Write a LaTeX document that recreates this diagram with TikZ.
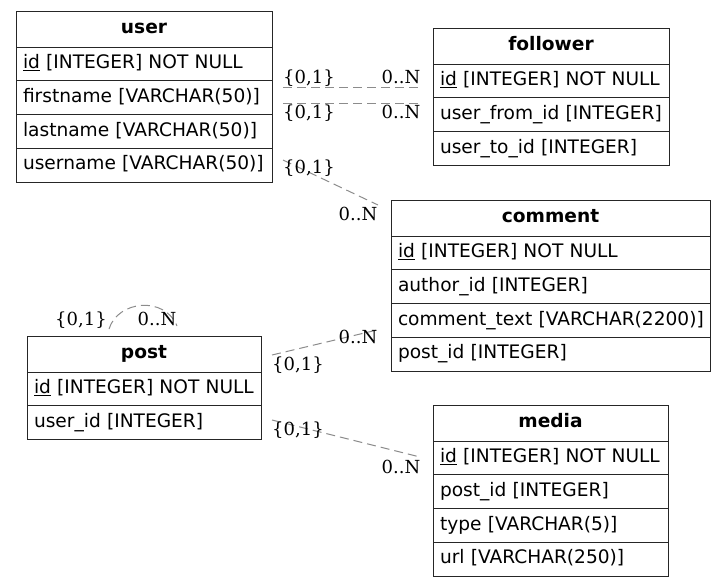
\documentclass[tikz,border=0pt]{standalone}
\usepackage{fontspec}
\setmainfont{DejaVu Sans}
\newfontfamily\lblfamily{DejaVu Serif}
\usetikzlibrary{calc}
\newcommand{\rowfnt}{\fontsize{18.6}{22}\selectfont}
\newcommand{\hdrfnt}{\fontsize{18.6}{22}\selectfont\bfseries}
\newcommand{\lblfnt}{\lblfamily\fontsize{18}{21}\selectfont}
\newcommand{\pk}[1]{\underline{#1}}
\begin{document}
\begin{tikzpicture}[x=1pt,y=-1pt,
  tbl/.style={draw=black!85, line width=1pt, outer sep=0pt, anchor=north west, inner xsep=7pt, inner ysep=0pt,
    minimum height=33.75pt, text width=#1, align=left, font=\rowfnt, text height=13.5pt, text depth=4pt},
  hdr/.style={tbl=#1, align=center, minimum height=36pt, font=\hdrfnt},
  rel/.style={draw=black!45, line width=1pt, dash pattern=on 9pt off 5pt},
  card/.style={font=\lblfnt, anchor=base, inner sep=0pt}]
\useasboundingbox (0,0) rectangle (727,587);
% user
\node[hdr=242pt] (user) at (16,11) {user};
\node[tbl=242pt] (user1) at (user.south west) {\pk{id} [INTEGER] NOT NULL};
\node[tbl=242pt] (user2) at (user1.south west) {firstname [VARCHAR(50)]};
\node[tbl=242pt] (user3) at (user2.south west) {lastname [VARCHAR(50)]};
\node[tbl=242pt] (user4) at (user3.south west) {username [VARCHAR(50)]};
% follower
\node[hdr=222pt] (fol) at (433,28) {follower};
\node[tbl=222pt] (fol1) at (fol.south west) {\pk{id} [INTEGER] NOT NULL};
\node[tbl=222pt] (fol2) at (fol1.south west) {user\_from\_id [INTEGER]};
\node[tbl=222pt] (fol3) at (fol2.south west) {user\_to\_id [INTEGER]};
% comment
\node[hdr=305pt] (com) at (391,200) {comment};
\node[tbl=305pt] (com1) at (com.south west) {\pk{id} [INTEGER] NOT NULL};
\node[tbl=305pt] (com2) at (com1.south west) {author\_id [INTEGER]};
\node[tbl=305pt] (com3) at (com2.south west) {\mbox{comment\_text [VARCHAR(2200)]}};
\node[tbl=305pt] (com4) at (com3.south west) {post\_id [INTEGER]};
% post
\node[hdr=220pt] (post) at (27,336) {post};
\node[tbl=220pt] (post1) at (post.south west) {\pk{id} [INTEGER] NOT NULL};
\node[tbl=220pt] (post2) at (post1.south west) {user\_id [INTEGER]};
% media
\node[hdr=221pt] (med) at (433,405) {media};
\node[tbl=221pt] (med1) at (med.south west) {\pk{id} [INTEGER] NOT NULL};
\node[tbl=221pt] (med2) at (med1.south west) {post\_id [INTEGER]};
\node[tbl=221pt] (med3) at (med2.south west) {type [VARCHAR(5)]};
\node[tbl=221pt] (med4) at (med3.south west) {url [VARCHAR(250)]};
% connector ends
\coordinate (a1) at (283,87);  \coordinate (b1) at (419,87);
\coordinate (a2) at (283,103); \coordinate (b2) at (419,103);
\coordinate (a3) at (283,160); \coordinate (b3) at (378,205);
\coordinate (a4) at (272,355); \coordinate (b4) at (377,330);
\coordinate (a5) at (272,420); \coordinate (b5) at (420,457);
\coordinate (a6) at (109,329); \coordinate (b6) at (177,326);
\draw[rel] (a1) -- (b1);
\draw[rel] (a2) -- (b2);
\draw[rel] (a3) -- (b3);
\draw[rel] (a4) -- (b4);
\draw[rel] (a5) -- (b5);
\draw[rel] (a6) .. controls (118,300) and (165,296) .. (b6);
% cardinalities
\node[card] (c1a) at (309,83) {\{0,1\}};
\node[card] (c1b) at (401,83) {0..N};
\node[card] (c2a) at (309,118) {\{0,1\}};
\node[card] (c2b) at (401,118) {0..N};
\node[card] (c3a) at (309,173) {\{0,1\}};
\node[card] (c3b) at (358,220) {0..N};
\node[card] (c4a) at (298,370) {\{0,1\}};
\node[card] (c4b) at (358,343) {0..N};
\node[card] (c5a) at (298,435) {\{0,1\}};
\node[card] (c5b) at (401,473) {0..N};
\node[card] (c6a) at (81,325) {\{0,1\}};
\node[card] (c6b) at (157,325) {0..N};
\end{tikzpicture}
\end{document}
